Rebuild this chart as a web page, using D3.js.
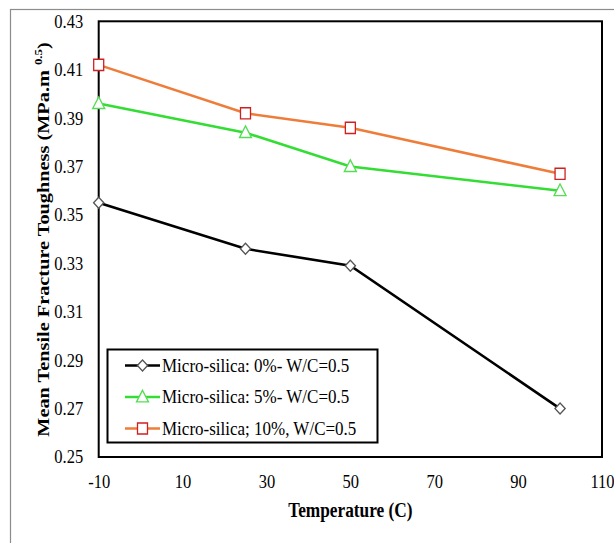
<!DOCTYPE html>
<html><head><meta charset="utf-8">
<script src="https://cdn.jsdelivr.net/npm/d3@7"></script>
<style>
html,body{margin:0;padding:0;background:#fff;}
svg{display:block;}
svg text{font-family:"Liberation Serif","Times New Roman",Times,serif;fill:#000;}
</style></head>
<body>
<svg id="chart" width="614" height="543"></svg>
<script>
const temperatures = [-10, 25, 50, 100];
const silica0 = [0.355, 0.336, 0.329, 0.270];
const silica5 = [0.396, 0.384, 0.370, 0.360];
const silica10 = [0.412, 0.392, 0.386, 0.367];
const seriesNames = ["Micro-silica: 0%- W/C=0.5", "Micro-silica: 5%- W/C=0.5", "Micro-silica; 10%, W/C=0.5"];
const xTicks = [-10, 10, 30, 50, 70, 90, 110];
const yTicks = [0.25, 0.27, 0.29, 0.31, 0.33, 0.35, 0.37, 0.39, 0.41, 0.43];

const series = [
  {name: seriesNames[0], values: silica0, line: "#000000", mstroke: "#555555", shape: "diamond"},
  {name: seriesNames[1], values: silica5, line: "#33dd33", mstroke: "#55dd55", shape: "triangle"},
  {name: seriesNames[2], values: silica10, line: "#ef7d3a", mstroke: "#d02020", shape: "square"}
];

const svg = d3.select("#chart");
const L = 98.7, R = 602, T = 21.3, B = 457;
const SY = 1.13; // vertical stretch of the reference's text
const x = d3.scaleLinear().domain([-10, 110]).range([L, R]);
const y = d3.scaleLinear().domain([0.25, 0.43]).range([B, T]);

// outer frame
svg.append("rect").attr("x", 10.5).attr("y", 9.5).attr("width", 700).attr("height", 700)
  .attr("fill", "none").attr("stroke", "#8c8c8c").attr("stroke-width", 1.2);

// axes
const xAxis = svg.append("g").attr("transform", `translate(0,${B})`)
  .call(d3.axisBottom(x).tickValues(xTicks).tickSize(0).tickFormat(d => String(d)));
const yAxis = svg.append("g").attr("transform", `translate(${L},0)`)
  .call(d3.axisLeft(y).tickValues(yTicks).tickSize(0).tickFormat(d => d.toFixed(2)));
[xAxis, yAxis].forEach(g => {
  g.attr("font-family", null).attr("font-size", null);
  g.select(".domain").remove();
  g.selectAll("text").attr("font-size", 16.5).attr("fill", "#000");
});
xAxis.selectAll("text").attr("dy", null).attr("y", 31.3 / SY).attr("transform", `scale(1,${SY})`);
yAxis.selectAll("text").attr("dy", null).attr("x", -15.5).attr("y", 5.3).attr("transform", `scale(1,${SY})`);

// plot frame
svg.append("rect").attr("x", L).attr("y", T).attr("width", R - L).attr("height", B - T)
  .attr("fill", "none").attr("stroke", "#000").attr("stroke-width", 2);

const symbols = {
  diamond: d3.symbol().type(d3.symbolSquare).size(52),
  triangle: d3.symbol().type(d3.symbolTriangle).size(62),
  square: d3.symbol().type(d3.symbolSquare).size(100)
};
function drawMarker(g, s, cx, cy) {
  const p = g.append("path").attr("d", symbols[s.shape]())
    .attr("fill", "#fff").attr("stroke", s.mstroke).attr("stroke-width", 1.3);
  if (s.shape === "diamond") p.attr("transform", `translate(${cx},${cy}) scale(1,1.08) rotate(45)`);
  else if (s.shape === "triangle") p.attr("transform", `translate(${cx},${cy + 1}) scale(1,1.12)`);
  else p.attr("transform", `translate(${cx},${cy}) scale(1,1.12)`);
}

const line = d3.line().x(d => x(d[0])).y(d => y(d[1]));
series.forEach(s => {
  const pts = temperatures.map((t, i) => [t, s.values[i]]);
  svg.append("path").datum(pts).attr("d", line).attr("fill", "none")
    .attr("stroke", s.line).attr("stroke-width", 2.6);
  const g = svg.append("g");
  pts.forEach(p => drawMarker(g, s, x(p[0]), y(p[1])));
});

// legend
const lg = svg.append("g");
lg.append("rect").attr("x", 107.5).attr("y", 349.5).attr("width", 270).attr("height", 93)
  .attr("fill", "#fff").attr("stroke", "#000").attr("stroke-width", 2);
series.forEach((s, i) => {
  const cy = 365.5 + i * 31.5;
  lg.append("line").attr("x1", 125).attr("x2", 160).attr("y1", cy).attr("y2", cy)
    .attr("stroke", s.line).attr("stroke-width", 2.6);
  drawMarker(lg, s, 142.5, cy);
  lg.append("text").attr("transform", `translate(162,${cy + 6}) scale(1,1.08)`)
    .attr("font-size", 17).text(s.name);
});

// axis titles
svg.append("text").attr("transform", `translate(${(L + R) / 2},516.7) scale(1,1.16)`)
  .attr("text-anchor", "middle").attr("font-size", 17.3).attr("font-weight", "bold").text("Temperature (C)");
const yt = svg.append("text").attr("text-anchor", "middle").attr("font-size", 17.5).attr("font-weight", "bold");
yt.append("tspan").text("Mean Tensile Fracture Toughness (MPa.m ");
yt.append("tspan").attr("font-size", 11).attr("dy", -7).text("0.5");
yt.append("tspan").attr("dy", 7).text(")");
const ytLen = yt.node().getBBox().width;
yt.attr("transform", `translate(48.5,${(42 + 437) / 2}) rotate(-90) scale(${395 / ytLen},1)`);
</script>
</body></html>
